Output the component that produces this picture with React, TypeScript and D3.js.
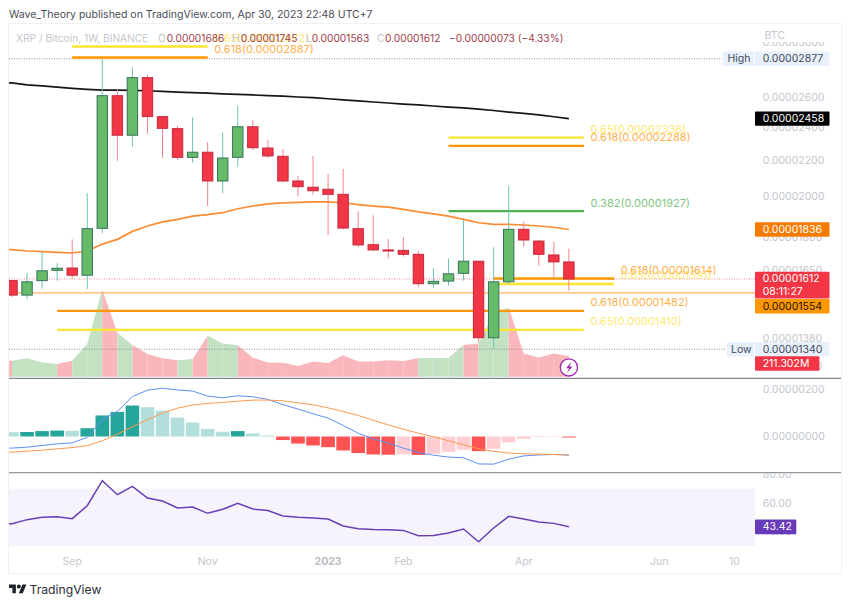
import * as d3 from "d3";

// Weekly candles, prices in satoshi (1e-8 BTC)
const opens = [1605, 1545, 1605, 1649, 1659, 1628, 1842, 2611, 2353, 2738, 2471, 2394, 2220, 2250, 2086, 2220, 2406, 2275, 2226, 2086, 2052, 2041, 2014, 1840, 1764, 1740, 1738, 1720, 1592, 1603, 1636, 1689, 1381, 1600, 1837, 1781, 1717, 1686];
const highs = [1608, 1639, 1732, 1680, 1789, 2020, 2876, 2655, 2814, 2757, 2475, 2411, 2467, 2311, 2369, 2543, 2449, 2324, 2269, 2114, 2228, 2125, 2153, 1926, 1906, 1791, 1799, 1735, 1660, 1702, 1883, 1690, 1752, 2059, 1874, 1786, 1777, 1745];
const lows = [1537, 1528, 1571, 1605, 1615, 1570, 1818, 2200, 2283, 2361, 2216, 2205, 2189, 1953, 2020, 2166, 2263, 2216, 2077, 2005, 2012, 1810, 1837, 1755, 1734, 1702, 1709, 1577, 1575, 1584, 1605, 1364, 1342, 1591, 1755, 1669, 1615, 1563];
const closes = [1545, 1600, 1647, 1658, 1628, 1840, 2611, 2353, 2738, 2471, 2396, 2220, 2250, 2086, 2216, 2406, 2277, 2228, 2086, 2055, 2033, 2014, 1843, 1763, 1740, 1735, 1720, 1592, 1602, 1634, 1689, 1381, 1600, 1837, 1786, 1720, 1686, 1612];

const ma200 = [2700, 2686, 2679, 2671, 2662, 2655, 2650, 2649, 2648, 2645, 2641, 2636, 2632, 2628, 2624, 2620, 2616, 2612, 2608, 2602, 2597, 2590, 2582, 2575, 2568, 2561, 2554, 2548, 2541, 2534, 2528, 2520, 2511, 2501, 2492, 2482, 2470, 2458];
const ma50 = [1741, 1735, 1732, 1729, 1726, 1735, 1767, 1789, 1827, 1853, 1873, 1886, 1902, 1909, 1919, 1939, 1953, 1964, 1969, 1972, 1974, 1974, 1970, 1960, 1953, 1947, 1936, 1923, 1913, 1902, 1886, 1869, 1861, 1861, 1858, 1853, 1847, 1836];

// Volume in millions
const volumes = [163, 187, 146, 129, 163, 333, 891, 449, 323, 231, 187, 167, 180, 418, 340, 320, 194, 146, 143, 109, 156, 139, 218, 156, 156, 167, 160, 190, 190, 190, 323, 340, 646, 707, 238, 197, 238, 211];

// MACD in satoshi
const macdHist = [18, 19, 23, 25, 24, 35, 89, 104, 131, 124, 109, 80, 59, 32, 20, 23, 13, 4, -15, -30, -38, -45, -59, -70, -76, -77, -75, -78, -73, -65, -56, -62, -52, -25, -10, -3, -2, -4];
const macdLine = [-49, -45, -38, -31, -27, -4, 73, 106, 169, 196, 204, 197, 192, 171, 164, 172, 168, 157, 135, 116, 96, 78, 47, 14, -10, -28, -49, -68, -79, -87, -90, -116, -117, -96, -82, -78, -76, -79];
const macdSignal = [-66, -62, -58, -52, -47, -39, -18, 10, 41, 71, 99, 120, 133, 140, 144, 149, 154, 154, 151, 142, 134, 121, 106, 89, 69, 49, 31, 14, -1, -18, -35, -52, -63, -70, -73, -75, -76, -78];

const rsi = [45.6, 48.4, 50.0, 50.5, 49.1, 58.1, 75.6, 65.8, 71.6, 63.5, 61.4, 56.5, 57.2, 52.8, 55.6, 59.8, 55.8, 54.7, 50.9, 50.0, 49.5, 48.8, 44.0, 42.1, 41.6, 41.4, 40.9, 37.2, 37.4, 39.1, 41.9, 33.0, 42.6, 50.7, 48.8, 46.7, 45.8, 43.42];

// Fib levels: ratio, price, first and last week index
const fibRatios = ["0.65", "0.618", "0.65", "0.618", "0.382", "0.65", "0.618", "0.65", "0.618"];
const fibPrices = [2972, 2887, 2338, 2288, 1927, 1591, 1614, 1410, 1482];
const fibStarts = [4, 4, 29, 29, 29, 32, 32, 3, 3];
const fibEnds = [13, 13, 38, 38, 38, 40, 40, 38, 38];

const priceTicks = [3000, 2600, 2400, 2200, 2000, 1800, 1650, 1380, 1280];
const macdTicks = [200, 0];
const rsiTicks = [80, 60, 40];
const timeLabels = ["Sep", "Nov", "2023", "Feb", "Apr", "Jun", "10"];
const timeIndex = [4, 13, 21, 26, 34, 43, 48];

const FONT = "Inter, 'Liberation Sans', sans-serif";
const AXIS_SIZE = 10.5;
const HEAD_SIZE = 10.2;
const GREY = "#c3c6cc";
const RED = "#f23645";
const HEADER_RED = "#a0414b";

const fmt = (v: number) => (v / 1e8).toFixed(8);

const x = d3.scaleLinear().domain([0, 37]).range([12, 568.9]);
const priceY = d3.scaleLog().domain([1340, 2877]).range([349.2, 58.8]);
const volumeY = d3.scaleLinear().domain([0, 1000]).range([376.7, 278.7]);
const macdY = d3.scaleLinear().domain([0, 200]).range([436.5, 389.2]);
const rsiY = d3.scaleLinear().domain([40, 60]).range([531.7, 503]);

type Pt = [number, number];
// first point is stretched back to the left edge of the plot
const withLead = (values: number[]): Pt[] => [
    [-0.25, values[0]],
    ...values.map((v, i) => [i, v] as Pt),
];

const priceLine = d3.line<Pt>().x((d) => x(d[0])).y((d) => priceY(d[1]));
const macdPath = d3.line<Pt>().x((d) => x(d[0])).y((d) => macdY(d[1]));
const rsiPath = d3.line<Pt>().x((d) => x(d[0])).y((d) => rsiY(d[1]));
const volumeArea = d3.area<Pt>().x((d) => x(d[0])).y0(volumeY(0)).y1((d) => volumeY(d[1]));

function histColor(i: number) {
    const v = macdHist[i];
    const prev = i > 0 ? macdHist[i - 1] : v + 1;
    if (v >= 0) return v > prev ? "#26a69a" : "#b2dfdb";
    return v < prev ? "#ff5252" : "#ffcdd2";
}

function Tag({ y, h, bg, color, text, w = 74.5 }: { y: number; h: number; bg: string; color: string; text: string; w?: number }) {
    return (
        <g>
            <rect x={755} y={y} width={w} height={h} fill={bg} rx={1} />
            <text x={762.7} y={y + h / 2} fill={color} fontSize={AXIS_SIZE} dominantBaseline="central">
                {text}
            </text>
        </g>
    );
}

function SideTag({ y, name, value, nameX, boxX }: { y: number; name: string; value: string; nameX: number; boxX: number }) {
    return (
        <g>
            <rect x={boxX} y={y} width={754 - boxX} height={14.4} fill="#e7f0fc" rx={1} />
            <rect x={755} y={y} width={74.5} height={14.4} fill="#e7f0fc" rx={1} />
            <text x={nameX} y={y + 7.2} fill="#444a55" fontSize={AXIS_SIZE} dominantBaseline="central">
                {name}
            </text>
            <text x={762.7} y={y + 7.2} fill="#444a55" fontSize={AXIS_SIZE} dominantBaseline="central">
                {value}
            </text>
        </g>
    );
}

export default function App() {
    const lastClose = closes[closes.length - 1];
    const lastIdx = closes.length - 1;
    return (
        <svg
            width={850}
            height={604}
            style={{ position: "absolute", left: 0, top: 0, background: "#fff" }}
            fontFamily={FONT}
        >
            <defs>
                <clipPath id="plot">
                    <rect x={9} y={24} width={746} height={354} />
                </clipPath>
                <clipPath id="macdPlot">
                    <rect x={9} y={380} width={746} height={92} />
                </clipPath>
                <clipPath id="rsiPlot">
                    <rect x={9} y={474} width={746} height={86} />
                </clipPath>
                <clipPath id="priceAxis">
                    <rect x={755} y={42} width={86} height={336} />
                </clipPath>
                <clipPath id="rsiAxis">
                    <rect x={755} y={473.5} width={86} height={86} />
                </clipPath>
            </defs>

            <text x={9} y={18} fill="#4a4d55" fontSize={10.5}>
                Wave_Theory published on TradingView.com, Apr 30, 2023 22:48 UTC+7
            </text>

            <rect x={8.5} y={23.5} width={833} height={550} fill="none" stroke="#eff1f5" />

            {/* Price pane */}
            <g clipPath="url(#plot)">
                {volumes.map((v, i) => {
                    const pts: Pt[] = i === 0 ? [[-0.25, v], [0, v]] : [[i - 1, volumes[i - 1]], [i, v]];
                    return (
                        <path
                            key={i}
                            d={volumeArea(pts) ?? ""}
                            fill={closes[i] >= opens[i] ? "#c2e2c1" : "#f9b7bc"}
                        />
                    );
                })}

                <line x1={9} x2={722} y1={priceY(2877)} y2={priceY(2877)} stroke="#8a8a8a" strokeDasharray="1 1.5" />
                <line x1={9} x2={726} y1={priceY(1340)} y2={priceY(1340)} stroke="#8a8a8a" strokeDasharray="1 1.5" />
                <line x1={9} x2={755} y1={priceY(lastClose)} y2={priceY(lastClose)} stroke="#f5828c" strokeDasharray="1 1.5" />
                <line x1={9} x2={755} y1={priceY(1554)} y2={priceY(1554)} stroke="#ffb45c" strokeWidth={1.1} />

                {fibPrices.map((p, i) => {
                    const col = fibRatios[i] === "0.65" ? "#fde52f" : fibRatios[i] === "0.618" ? "#ff9800" : "#4caf50";
                    return (
                        <line
                            key={i}
                            x1={x(fibStarts[i])}
                            x2={x(fibEnds[i])}
                            y1={priceY(p)}
                            y2={priceY(p)}
                            stroke={col}
                            strokeWidth={2.4}
                        />
                    );
                })}

                <path d={priceLine(withLead(ma200)) ?? ""} fill="none" stroke="#161616" strokeWidth={1.7} />
                <path d={priceLine(withLead(ma50)) ?? ""} fill="none" stroke="#fb8c32" strokeWidth={1.7} />

                {closes.map((c, i) => {
                    const up = c >= opens[i];
                    const top = priceY(Math.max(c, opens[i]));
                    const bottom = priceY(Math.min(c, opens[i]));
                    return (
                        <g key={i}>
                            <line
                                x1={x(i)}
                                x2={x(i)}
                                y1={priceY(highs[i])}
                                y2={priceY(lows[i])}
                                stroke={up ? "#6cc4b6" : "#f4838f"}
                                strokeWidth={1}
                            />
                            <rect
                                x={x(i) - 5.2}
                                y={top}
                                width={10.4}
                                height={Math.max(bottom - top, 1)}
                                fill={up ? "#66bb6a" : RED}
                                stroke={up ? "#39705a" : "#c4293f"}
                                strokeWidth={1}
                            />
                        </g>
                    );
                })}

                {fibPrices.map((p, i) => {
                    const col = fibRatios[i] === "0.65" ? "#ffe873" : fibRatios[i] === "0.618" ? "#ffb04d" : "#7fc583";
                    return (
                        <text
                            key={i}
                            x={x(fibEnds[i]) + 6.6}
                            y={priceY(p) - 8.5}
                            fill={col}
                            fontSize={11}
                            dominantBaseline="central"
                        >
                            {`${fibRatios[i]}(${fmt(p)})`}
                        </text>
                    );
                })}

                {/* Alert badge */}
                <circle cx={x(lastIdx)} cy={367.4} r={8.6} fill="#fff" stroke="#9c27b0" strokeWidth={1.3} />
                <path
                    d={`M${x(lastIdx) + 2.6},${361.8} l-5.4,6.4 h3 l-2.2,4.8 l5.6,-6.6 h-3 z`}
                    fill="#9c27b0"
                />
            </g>

            {/* Legend row */}
            <g fontSize={HEAD_SIZE}>
                <text x={16} y={38} fill={GREY} dominantBaseline="central">XRP / Bitcoin, 1W, BINANCE</text>
                <text x={158} y={38} fill={GREY} dominantBaseline="central">O</text>
                <text x={166.7} y={38} fill={HEADER_RED} dominantBaseline="central">{fmt(opens[lastIdx])}</text>
                <text x={232} y={38} fill={GREY} dominantBaseline="central">H</text>
                <text x={240.7} y={38} fill={HEADER_RED} dominantBaseline="central">{fmt(highs[lastIdx])}</text>
                <text x={306} y={38} fill={GREY} dominantBaseline="central">L</text>
                <text x={311.7} y={38} fill={HEADER_RED} dominantBaseline="central">{fmt(lows[lastIdx])}</text>
                <text x={377} y={38} fill={GREY} dominantBaseline="central">C</text>
                <text x={385} y={38} fill={HEADER_RED} dominantBaseline="central">{fmt(lastClose)}</text>
                <text x={449} y={38} fill={HEADER_RED} dominantBaseline="central">−0.00000073 (−4.33%)</text>
            </g>

            {/* MACD pane */}
            <g clipPath="url(#macdPlot)">
                {macdHist.map((v, i) => (
                    <rect
                        key={i}
                        x={x(i) - 6.8}
                        y={Math.min(macdY(v), macdY(0))}
                        width={13.6}
                        height={Math.abs(macdY(v) - macdY(0))}
                        fill={histColor(i)}
                    />
                ))}
                <path d={macdPath(withLead(macdLine)) ?? ""} fill="none" stroke="#5f90f5" strokeWidth={1} />
                <path d={macdPath(withLead(macdSignal)) ?? ""} fill="none" stroke="#fb9a50" strokeWidth={1} />
            </g>

            {/* RSI pane */}
            <g clipPath="url(#rsiPlot)">
                <rect x={9} y={rsiY(70)} width={746} height={rsiY(30) - rsiY(70)} fill="#f6f3fc" />
                <path d={rsiPath(withLead(rsi)) ?? ""} fill="none" stroke="#6a3fb5" strokeWidth={1.5} />
            </g>

            <line x1={9} x2={841} y1={378.4} y2={378.4} stroke="#85878c" strokeWidth={1.2} />
            <line x1={9} x2={841} y1={472.6} y2={472.6} stroke="#95979c" strokeWidth={1.4} />

            {/* Right axis */}
            <text x={764.5} y={35} fill={GREY} fontSize={AXIS_SIZE} dominantBaseline="central">BTC</text>
            <g clipPath="url(#priceAxis)">
                {priceTicks.map((t) => (
                    <text key={t} x={762.7} y={priceY(t)} fill={GREY} fontSize={AXIS_SIZE} dominantBaseline="central">
                        {fmt(t)}
                    </text>
                ))}
            </g>
            {macdTicks.map((t) => (
                <text key={t} x={762.7} y={macdY(t)} fill={GREY} fontSize={AXIS_SIZE} dominantBaseline="central">
                    {fmt(t)}
                </text>
            ))}
            <g clipPath="url(#rsiAxis)">
                {rsiTicks.map((t) => (
                    <text key={t} x={762.7} y={rsiY(t)} fill={GREY} fontSize={AXIS_SIZE} dominantBaseline="central">
                        {t.toFixed(2)}
                    </text>
                ))}
            </g>

            <SideTag y={priceY(2877) - 7.2} name="High" value={fmt(2877)} nameX={727.5} boxX={723} />
            <SideTag y={priceY(1340) - 7.2} name="Low" value={fmt(1340)} nameX={731} boxX={727} />
            <Tag y={priceY(ma200[lastIdx]) - 7.2} h={14.4} bg="#000" color="#fff" text={fmt(ma200[lastIdx])} />
            <Tag y={priceY(ma50[lastIdx]) - 7.2} h={14.4} bg="#f57c00" color="#fff" text={fmt(ma50[lastIdx])} />
            <rect x={755} y={271.7} width={74.5} height={26.8} fill={RED} rx={1} />
            <text x={762.7} y={priceY(lastClose)} fill="#fff" fontSize={AXIS_SIZE} dominantBaseline="central">
                {fmt(lastClose)}
            </text>
            <text x={762.7} y={291} fill="#fff" fontSize={AXIS_SIZE} dominantBaseline="central">
                08:11:27
            </text>
            <Tag y={299} h={14.4} bg="#ff9800" color="#1c1300" text={fmt(1554)} />
            <Tag y={356.2} h={14.6} bg={RED} color="#fff" text={`${volumes[lastIdx] + 0.302}M`} w={64.4} />
            <Tag y={rsiY(rsi[lastIdx]) - 7.4} h={14.8} bg="#673ab7" color="#fff" text={rsi[lastIdx].toFixed(2)} w={41.3} />

            {/* Time axis */}
            {timeLabels.map((t, i) => (
                <text
                    key={t}
                    x={x(timeIndex[i])}
                    y={561.7}
                    fill={t === "2023" ? "#b9bcc2" : GREY}
                    fontSize={AXIS_SIZE}
                    fontWeight={t === "2023" ? 700 : 400}
                    textAnchor="middle"
                    dominantBaseline="central"
                >
                    {t}
                </text>
            ))}

            {/* Logo */}
            <g transform="translate(9,584.5) scale(0.49)" fill="#1e222d">
                <path d="M14 18H7V7H0V0h14v18zM28 18h-8l7.5-18h8L28 18z" />
                <circle cx={20} cy={4} r={4} />
            </g>
            <text x={29.5} y={589} fill="#2a2e39" fontSize={12.2} dominantBaseline="central">
                TradingView
            </text>
        </svg>
    );
}
